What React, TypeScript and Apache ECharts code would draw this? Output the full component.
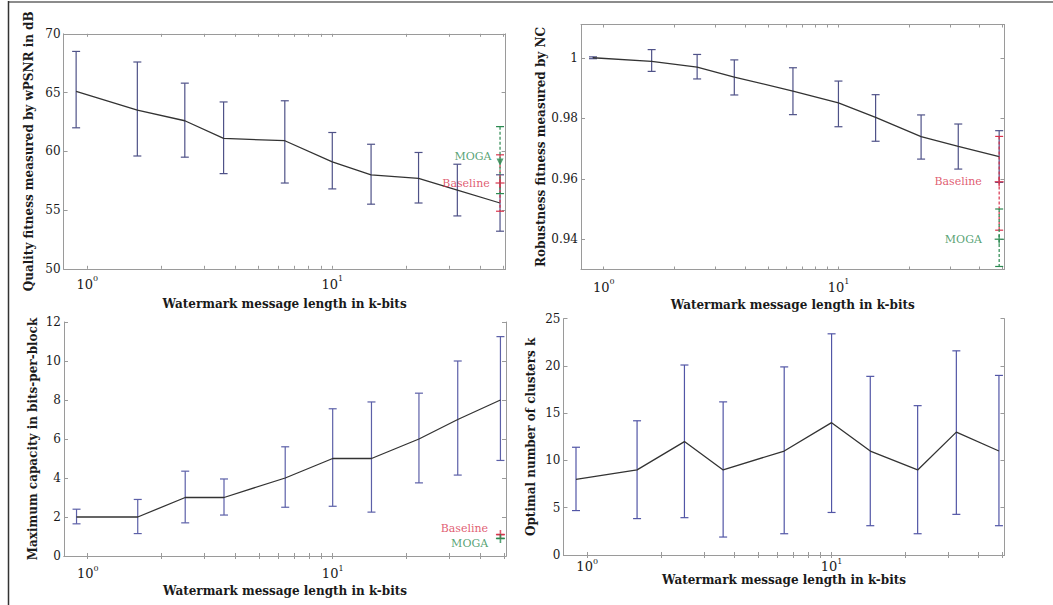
import React, { useEffect, useRef } from "react";
import * as echarts from "echarts";

// ---------------- data ----------------
const X_KBITS = [0.9, 1.6, 2.5, 3.6, 6.4, 10, 14.4, 22.5, 32.4, 48.4];
const X_TICK_LABELS = [1, 10];
const X_TICKS = [1, 2, 3, 4, 5, 6, 7, 8, 9, 10, 20, 30, 40, 50];

const PSNR_MEAN = [65.1, 63.5, 62.6, 61.1, 60.9, 59.1, 58.0, 57.7, 56.7, 55.6];
const PSNR_HI = [68.5, 67.6, 65.8, 64.2, 64.3, 61.6, 60.6, 59.9, 58.9, 58.0];
const PSNR_LO = [62.0, 59.6, 59.5, 58.1, 57.3, 56.8, 55.5, 55.6, 54.5, 53.2];
const PSNR_TICKS = [50, 55, 60, 65, 70];

const NC_MEAN = [1.0, 0.9988, 0.9969, 0.9936, 0.989, 0.9851, 0.9803, 0.9739, 0.9707, 0.9673];
const NC_HI = [1.0003, 1.0027, 1.0011, 0.9993, 0.9967, 0.9923, 0.9878, 0.9811, 0.9781, 0.9759];
const NC_LO = [0.9997, 0.9955, 0.993, 0.9877, 0.9812, 0.9772, 0.9724, 0.9665, 0.9632, 0.9588];
const NC_TICKS = [0.94, 0.96, 0.98, 1];

const CAP_MEAN = [2, 2, 3, 3, 4, 5, 5, 6, 7, 8];
const CAP_HI = [2.4, 2.9, 4.35, 3.95, 5.6, 7.55, 7.9, 8.35, 10.0, 11.25];
const CAP_LO = [1.65, 1.15, 1.7, 2.1, 2.5, 2.55, 2.25, 3.75, 4.15, 4.9];
const CAP_TICKS = [0, 2, 4, 6, 8, 10, 12];

const K_MEAN = [8, 9, 12, 9, 11, 14, 11, 9, 13, 11];
const K_HI = [11.4, 14.2, 20.1, 16.2, 19.9, 23.4, 18.9, 15.8, 21.6, 19.0];
const K_LO = [4.7, 3.85, 3.95, 1.9, 2.25, 4.5, 3.1, 2.25, 4.3, 3.1];
const K_TICKS = [0, 5, 10, 15, 20, 25];

// comparison methods at the largest message length (panels: PSNR, NC, capacity)
const BASELINE_MEAN = [57.3, 0.959, 1.1];
const BASELINE_LO = [54.9, 0.943, 1.1];
const BASELINE_HI = [59.7, 0.974, 1.1];
const MOGA_MEAN = [59.1, 0.94, 0.9];
const MOGA_LO = [56.4, 0.931, 0.9];
const MOGA_HI = [62.1, 0.95, 0.9];

const X_NAME = "Watermark message length in k-bits";
const Y_NAMES = [
  "Quality fitness measured by wPSNR in dB",
  "Robustness fitness measured by NC",
  "Maximum capacity in bits-per-block",
  "Optimal number of clusters k",
];

// ---------------- styling / layout ----------------
const FONT = "DejaVu Serif";
const TEXT = "#1a1a1a";
const BOX = "#9a9a9a";
const LINE = "#333";
const RED = "#d8324c";
const GREEN = "#2b8a50";

const PANELS = [
  { grid: { left: 63.6, top: 33.8, width: 442, height: 235 }, yMin: 50, yMax: 70, ticks: PSNR_TICKS, mean: PSNR_MEAN, lo: PSNR_LO, hi: PSNR_HI, yNameGap: 29, xNameGap: 29, xLabelMargin: 6, bar: "#4f5288" },
  { grid: { left: 581, top: 24.5, width: 423.5, height: 245 }, yMin: 0.93, yMax: 1.011, ticks: NC_TICKS, mean: NC_MEAN, lo: NC_LO, hi: NC_HI, yNameGap: 34, xNameGap: 29, xLabelMargin: 8, bar: "#4f5288" },
  { grid: { left: 64, top: 322, width: 442, height: 234 }, yMin: 0, yMax: 12, ticks: CAP_TICKS, mean: CAP_MEAN, lo: CAP_LO, hi: CAP_HI, yNameGap: 25, xNameGap: 29, xLabelMargin: 8, bar: "#5c60a8" },
  { grid: { left: 563.5, top: 318.7, width: 441, height: 236.3 }, yMin: 0, yMax: 25, ticks: K_TICKS, mean: K_MEAN, lo: K_LO, hi: K_HI, yNameGap: 27, xNameGap: 19, xLabelMargin: 2, bar: "#5256a6" },
];

// label placement for Baseline / MOGA per panel
const EXTRA_LABEL = [
  { dist: 5, dyB: 0, dyM: -5, mogaSymbol: "triangle" },
  { dist: 12, dyB: 0, dyM: 0, mogaSymbol: "plus" },
  { dist: 7, dyB: -6, dyM: 5, mogaSymbol: "plus" },
];

const PLUS = "path://M0,5L10,5M5,0L5,10";
const TRI_DOWN = "path://M0,0L10,0L5,8Z";

function errorBars(i: number, lo: number[], hi: number[], xs: number[], color: string, dashed: boolean, z: number) {
  return {
    type: "custom",
    xAxisIndex: 2 * i,
    yAxisIndex: 2 * i,
    z,
    clip: false,
    silent: true,
    encode: { x: 0, y: [1, 2] },
    data: xs.map((x, k) => [x, lo[k], hi[k]]),
    renderItem: (_p: any, api: any) => {
      const x = api.value(0);
      const a = api.coord([x, api.value(2)]);
      const b = api.coord([x, api.value(1)]);
      const w = 4;
      const base = { stroke: color, lineWidth: 1.2, fill: null };
      return {
        type: "group",
        children: [
          { type: "line", shape: { x1: a[0], y1: a[1], x2: b[0], y2: b[1] }, style: { ...base, lineDash: dashed ? [3, 2] : null } },
          { type: "line", shape: { x1: a[0] - w, y1: a[1], x2: a[0] + w, y2: a[1] }, style: base },
          { type: "line", shape: { x1: b[0] - w, y1: b[1], x2: b[0] + w, y2: b[1] }, style: base },
        ],
      };
    },
  };
}

function buildOption() {
  const grid: any[] = [];
  const xAxis: any[] = [];
  const yAxis: any[] = [];
  const series: any[] = [];
  const lastX = X_KBITS[X_KBITS.length - 1];
  const nameStyle = { fontFamily: FONT, fontSize: 12, fontWeight: "bold", color: TEXT };

  PANELS.forEach((p, i) => {
    grid.push({ ...p.grid, show: false, outerBoundsMode: "none", containLabel: false });
    const xBase = {
      type: "log",
      logBase: 10,
      gridIndex: i,
      min: 0.8,
      max: 51,
      splitLine: { show: false },
      axisLine: { show: true, lineStyle: { color: BOX, width: 1 } },
      axisTick: { show: true, inside: true, length: 3, customValues: X_TICKS, lineStyle: { color: BOX } },
    };
    xAxis.push({
      ...xBase,
      position: "bottom",
      name: X_NAME,
      nameLocation: "middle",
      nameGap: p.xNameGap,
      nameTextStyle: nameStyle,
      axisLabel: {
        customValues: X_TICK_LABELS,
        margin: p.xLabelMargin,
        formatter: (v: number) => `{b|10}{s|${Math.round(Math.log10(v))}}`,
        rich: {
          b: { fontFamily: FONT, fontSize: 13, color: TEXT, lineHeight: 16, verticalAlign: "bottom" },
          s: { fontFamily: FONT, fontSize: 8, color: TEXT, lineHeight: 16, verticalAlign: "top" },
        },
      },
    });
    xAxis.push({ ...xBase, position: "top", axisLabel: { show: false } });

    const yBase = {
      type: "value",
      gridIndex: i,
      min: p.yMin,
      max: p.yMax,
      splitLine: { show: false },
      axisLine: { show: true, lineStyle: { color: BOX, width: 1 } },
      axisTick: { show: true, inside: true, length: 4, customValues: p.ticks, lineStyle: { color: BOX } },
    };
    yAxis.push({
      ...yBase,
      position: "left",
      name: Y_NAMES[i],
      nameLocation: "middle",
      nameGap: p.yNameGap,
      nameTextStyle: nameStyle,
      axisLabel: {
        customValues: p.ticks,
        margin: 3,
        fontFamily: FONT,
        fontSize: 12,
        color: TEXT,
        formatter: (v: number) => String(Math.round(v * 100) / 100),
      },
    });
    yAxis.push({ ...yBase, position: "right", axisLabel: { show: false } });

    series.push(errorBars(i, p.lo, p.hi, X_KBITS, p.bar, false, 2));
    series.push({
      type: "line",
      xAxisIndex: 2 * i,
      yAxisIndex: 2 * i,
      data: X_KBITS.map((x, k) => [x, p.mean[k]]),
      symbol: "none",
      lineStyle: { color: LINE, width: 1.3 },
      z: 3,
      silent: true,
    });

    if (i < 3) {
      const L = EXTRA_LABEL[i];
      series.push(errorBars(i, [BASELINE_LO[i]], [BASELINE_HI[i]], [lastX], RED, true, 4));
      series.push(errorBars(i, [MOGA_LO[i]], [MOGA_HI[i]], [lastX], GREEN, true, 5));
      series.push({
        type: "scatter",
        xAxisIndex: 2 * i,
        yAxisIndex: 2 * i,
        data: [[lastX, BASELINE_MEAN[i]]],
        symbol: PLUS,
        symbolSize: 9,
        itemStyle: { color: "rgba(0,0,0,0)", borderColor: RED, borderWidth: 1.6 },
        label: {
          show: true,
          position: "left",
          distance: L.dist,
          offset: [0, L.dyB],
          formatter: "Baseline",
          color: RED,
          fontFamily: FONT,
          fontSize: 11,
        },
        z: 6,
        clip: false,
        silent: true,
      });
      series.push({
        type: "scatter",
        xAxisIndex: 2 * i,
        yAxisIndex: 2 * i,
        data: [[lastX, MOGA_MEAN[i]]],
        symbol: L.mogaSymbol === "triangle" ? TRI_DOWN : PLUS,
        symbolSize: L.mogaSymbol === "triangle" ? 7 : 9,
        itemStyle:
          L.mogaSymbol === "triangle"
            ? { color: GREEN }
            : { color: "rgba(0,0,0,0)", borderColor: GREEN, borderWidth: 1.6 },
        label: {
          show: true,
          position: "left",
          distance: L.dist,
          offset: [0, L.dyM],
          formatter: "MOGA",
          color: GREEN,
          fontFamily: FONT,
          fontSize: 11,
        },
        z: 7,
        clip: false,
        silent: true,
      });
    }
  });

  return {
    animation: false,
    backgroundColor: "#fff",
    textStyle: { fontFamily: FONT },
    grid,
    xAxis,
    yAxis,
    series,
    graphic: [
      { type: "line", shape: { x1: 8, y1: 2, x2: 1053, y2: 2 }, style: { stroke: "#8c8c8c", lineWidth: 2 }, silent: true },
      { type: "line", shape: { x1: 8.5, y1: 1, x2: 8.5, y2: 605 }, style: { stroke: "#333", lineWidth: 1.5 }, silent: true },
    ],
  };
}

export default function App() {
  const ref = useRef<HTMLDivElement>(null);
  useEffect(() => {
    if (!ref.current) return;
    const chart = echarts.init(ref.current, undefined, { renderer: "svg" });
    chart.setOption(buildOption() as any);
    return () => chart.dispose();
  }, []);
  return (
    <div
      ref={ref}
      style={{ position: "absolute", left: 0, top: 0, width: 1053, height: 605, background: "#fff" }}
    />
  );
}
